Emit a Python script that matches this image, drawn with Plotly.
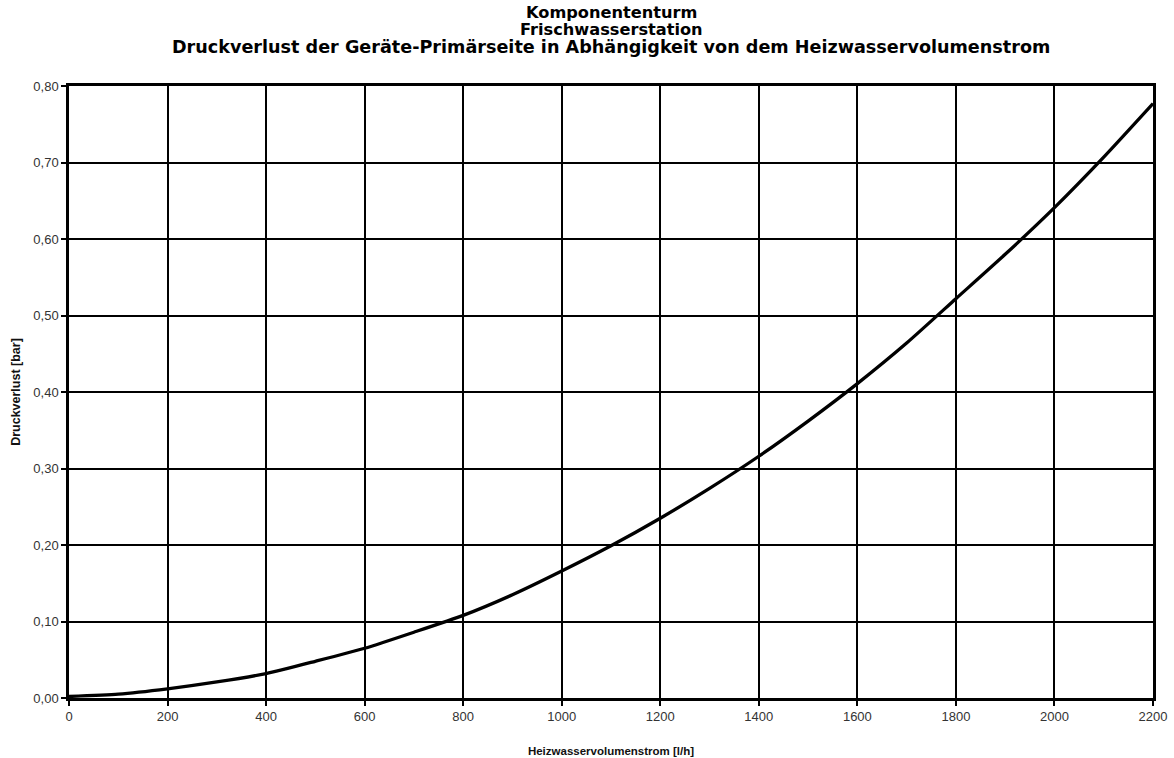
import plotly.graph_objects as go

# Heizwasservolumenstrom [l/h] and resulting pressure loss [bar]
volumenstrom = [0, 100, 200, 300, 400, 500, 600, 700, 800, 900, 1000, 1100,
                1200, 1300, 1400, 1500, 1600, 1700, 1800, 1900, 2000, 2100, 2200]
druckverlust = [0.002, 0.005, 0.012, 0.021, 0.032, 0.048, 0.065, 0.086, 0.108,
                0.135, 0.166, 0.199, 0.235, 0.274, 0.316, 0.362, 0.411, 0.464,
                0.522, 0.580, 0.641, 0.707, 0.777]

x_ticks = list(range(0, 2201, 200))
y_ticks = [0.0, 0.1, 0.2, 0.3, 0.4, 0.5, 0.6, 0.7, 0.8]

title_lines = [
    "Komponententurm",
    "Frischwasserstation",
    "Druckverlust der Geräte-Primärseite in Abhängigkeit von dem Heizwasservolumenstrom",
]
title_sizes = [16.2, 16.2, 17.6]
title_centres = [12, 29.5, 47]  # px from the top of the page

FONT = "Liberation Sans, Arial, sans-serif"
TITLE_FONT = "DejaVu Sans, Liberation Sans, sans-serif"
TOP = 86  # top margin in px

fig = go.Figure()
fig.add_trace(go.Scatter(
    x=volumenstrom, y=druckverlust, mode="lines",
    line=dict(color="black", width=3.3, shape="spline", smoothing=0.6),
    showlegend=False, hoverinfo="skip",
))

# three centred title lines above the plot area
for line, size, centre_px in zip(title_lines, title_sizes, title_centres):
    fig.add_annotation(
        text=f"<b>{line}</b>", xref="paper", yref="paper",
        x=0.5, y=1, xanchor="center", yanchor="middle",
        yshift=TOP - centre_px, showarrow=False,
        font=dict(family=TITLE_FONT, size=size, color="black"),
    )

fig.update_layout(
    width=1174, height=758,
    margin=dict(l=69, r=21, t=TOP, b=60),
    paper_bgcolor="white", plot_bgcolor="white",
    separators=",.",
    font=dict(family=FONT, color="#222"),
    xaxis=dict(
        range=[0, 2200], tickvals=x_ticks, tickformat="d",
        showgrid=True, gridcolor="black", gridwidth=1.5,
        showline=True, linecolor="black", linewidth=2.5, mirror=True,
        ticks="outside", ticklen=5, tickcolor="black", tickwidth=1.5,
        tickfont=dict(family=FONT, size=13, color="#333"),
        zeroline=False, automargin=False,
        title=dict(text="<b>Heizwasservolumenstrom [l/h]</b>", standoff=24,
                   font=dict(family=FONT, size=11.5, color="#111")),
    ),
    yaxis=dict(
        range=[0, 0.8], tickvals=y_ticks, tickformat=".2f",
        showgrid=True, gridcolor="black", gridwidth=1.5,
        showline=True, linecolor="black", linewidth=2.5, mirror=True,
        ticks="outside", ticklen=5, tickcolor="black", tickwidth=1.5,
        tickfont=dict(family=FONT, size=13, color="#333"),
        zeroline=False, automargin=False,
        title=dict(text="<b>Druckverlust [bar]</b>", standoff=10,
                   font=dict(family=FONT, size=12.5, color="#111")),
    ),
)

fig.write_html("out.html")
